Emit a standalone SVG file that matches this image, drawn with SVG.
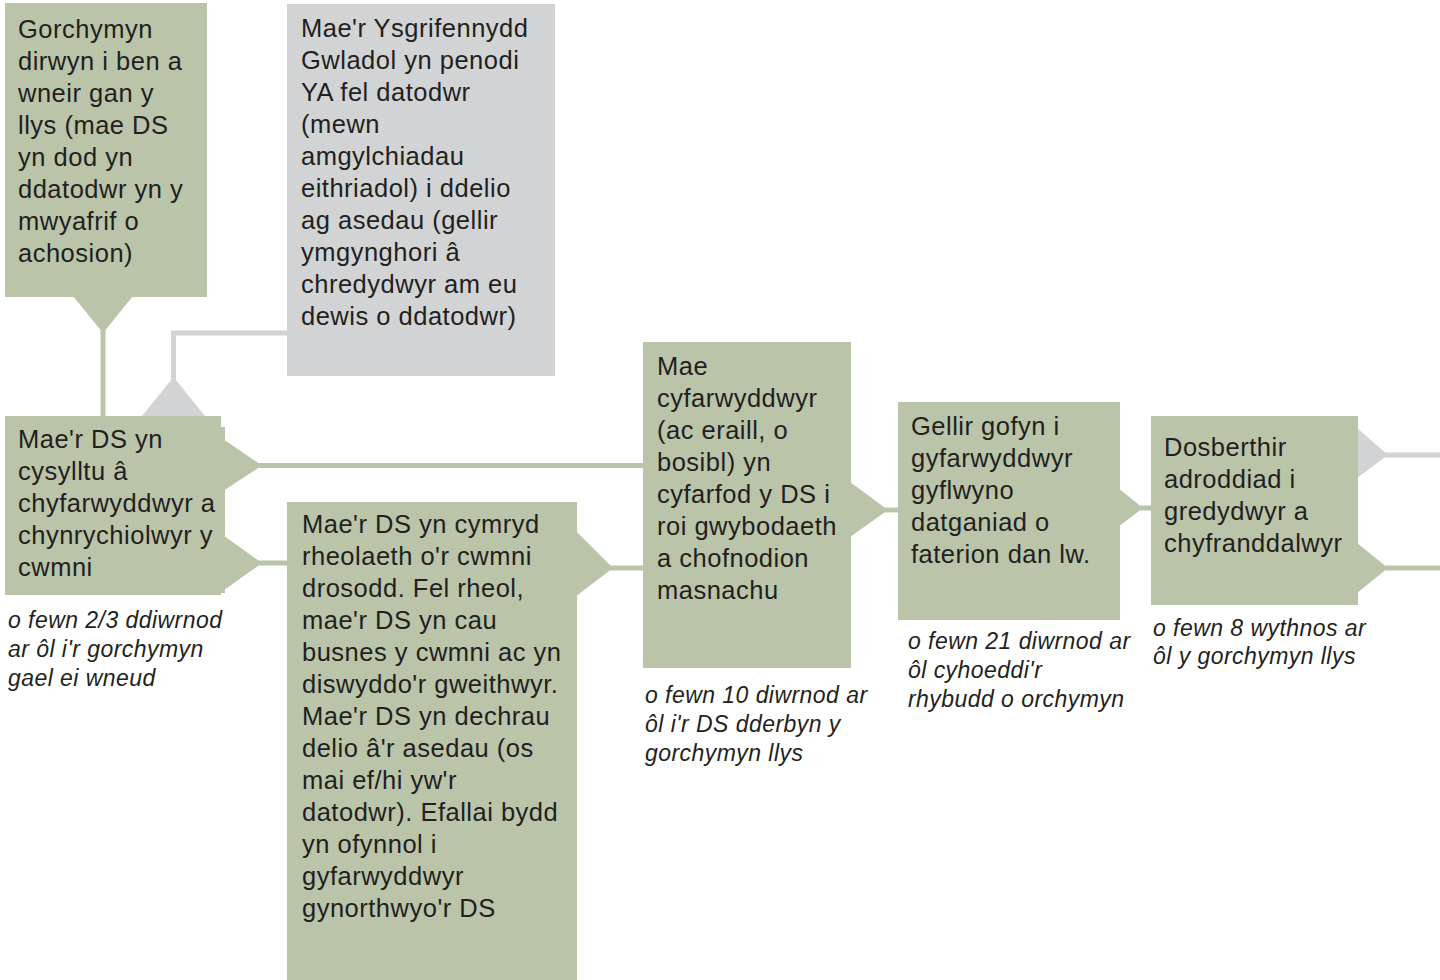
<svg xmlns="http://www.w3.org/2000/svg" width="1440" height="980" viewBox="0 0 1440 980">
<style>
.g{fill:#bac4a9}
.s{fill:#d1d3d4}
.lg{stroke:#bac4a9;stroke-width:5;fill:none}
.ls{stroke:#d1d3d4;stroke-width:5;fill:none}
.t{font-family:"Liberation Sans",Arial,sans-serif;font-size:25.5px;fill:#231f20;letter-spacing:0.5px}
.i{font-family:"Liberation Sans",Arial,sans-serif;font-size:23px;font-style:italic;fill:#231f20;letter-spacing:0.45px}
</style>
<rect width="1440" height="980" fill="#ffffff"/>
<g id="connectors">
<polyline class="ls" points="287,333 173.5,333 173.5,380"/>
<polygon class="s" points="173.5,377 142,416 205,416"/>
<polygon class="g" points="73,296 133,296 103,333"/>
<line class="lg" x1="103" y1="330" x2="103" y2="418"/>
<polygon class="g" points="220,437 262,465.5 220,493"/>
<line class="lg" x1="258" y1="465.5" x2="645" y2="465.5"/>
<polygon class="g" points="220,533 262,563 220,593"/>
<line class="lg" x1="258" y1="563" x2="289" y2="563"/>
<polygon class="g" points="575,530 613,568 575,597"/>
<line class="lg" x1="610" y1="568" x2="645" y2="568"/>
<polygon class="g" points="850,482 888,510 850,537"/>
<line class="lg" x1="885" y1="510" x2="900" y2="510"/>
<polygon class="g" points="1118,488 1143,508 1118,527"/>
<line class="lg" x1="1140" y1="508" x2="1153" y2="508"/>
<polygon class="s" points="1357,428 1388,455 1357,478"/>
<line class="ls" x1="1385" y1="455" x2="1440" y2="455"/>
<polygon class="g" points="1357,543 1388,568 1357,593"/>
<line class="lg" x1="1385" y1="568" x2="1440" y2="568"/>
</g>
<g id="node-order">
<rect class="g" x="5" y="3" width="202" height="294"/>
<text class="t" x="18" y="38">Gorchymyn</text>
<text class="t" x="18" y="70">dirwyn i ben a</text>
<text class="t" x="18" y="102">wneir gan y</text>
<text class="t" x="18" y="134">llys (mae DS</text>
<text class="t" x="18" y="166">yn dod yn</text>
<text class="t" x="18" y="198">ddatodwr yn y</text>
<text class="t" x="18" y="230">mwyafrif o</text>
<text class="t" x="18" y="262">achosion)</text>
</g>
<g id="node-secretary">
<rect class="s" x="287" y="4" width="268" height="372"/>
<text class="t" x="301" y="37">Mae'r Ysgrifennydd</text>
<text class="t" x="301" y="69">Gwladol yn penodi</text>
<text class="t" x="301" y="101">YA fel datodwr</text>
<text class="t" x="301" y="133">(mewn</text>
<text class="t" x="301" y="165">amgylchiadau</text>
<text class="t" x="301" y="197">eithriadol) i ddelio</text>
<text class="t" x="301" y="229">ag asedau (gellir</text>
<text class="t" x="301" y="261">ymgynghori â</text>
<text class="t" x="301" y="293">chredydwyr am eu</text>
<text class="t" x="301" y="325">dewis o ddatodwr)</text>
</g>
<g id="node-contact">
<rect class="g" x="5" y="416" width="216" height="179"/>
<rect class="g" x="219" y="427" width="6" height="166"/>
<text class="t" x="18" y="448">Mae'r DS yn</text>
<text class="t" x="18" y="480">cysylltu â</text>
<text class="t" x="18" y="512">chyfarwyddwyr a</text>
<text class="t" x="18" y="544">chynrychiolwyr y</text>
<text class="t" x="18" y="576">cwmni</text>
</g>
<g id="label-1">
<text class="i" x="8" y="628">o fewn 2/3 ddiwrnod</text>
<text class="i" x="8" y="657">ar ôl i'r gorchymyn</text>
<text class="i" x="8" y="686">gael ei wneud</text>
</g>
<g id="node-control">
<rect class="g" x="287" y="502" width="290" height="478"/>
<text class="t" x="302" y="533">Mae'r DS yn cymryd</text>
<text class="t" x="302" y="565">rheolaeth o'r cwmni</text>
<text class="t" x="302" y="597">drosodd. Fel rheol,</text>
<text class="t" x="302" y="629">mae'r DS yn cau</text>
<text class="t" x="302" y="661">busnes y cwmni ac yn</text>
<text class="t" x="302" y="693">diswyddo'r gweithwyr.</text>
<text class="t" x="302" y="725">Mae'r DS yn dechrau</text>
<text class="t" x="302" y="757">delio â'r asedau (os</text>
<text class="t" x="302" y="789">mai ef/hi yw'r</text>
<text class="t" x="302" y="821">datodwr). Efallai bydd</text>
<text class="t" x="302" y="853">yn ofynnol i</text>
<text class="t" x="302" y="885">gyfarwyddwyr</text>
<text class="t" x="302" y="917">gynorthwyo'r DS</text>
</g>
<g id="node-meet">
<rect class="g" x="643" y="342" width="208" height="326"/>
<text class="t" x="657" y="375">Mae</text>
<text class="t" x="657" y="407">cyfarwyddwyr</text>
<text class="t" x="657" y="439">(ac eraill, o</text>
<text class="t" x="657" y="471">bosibl) yn</text>
<text class="t" x="657" y="503">cyfarfod y DS i</text>
<text class="t" x="657" y="535">roi gwybodaeth</text>
<text class="t" x="657" y="567">a chofnodion</text>
<text class="t" x="657" y="599">masnachu</text>
</g>
<g id="label-2">
<text class="i" x="645" y="703">o fewn 10 diwrnod ar</text>
<text class="i" x="645" y="732">ôl i'r DS dderbyn y</text>
<text class="i" x="645" y="761">gorchymyn llys</text>
</g>
<g id="node-statement">
<rect class="g" x="898" y="402" width="222" height="218"/>
<text class="t" x="911" y="435">Gellir gofyn i</text>
<text class="t" x="911" y="467">gyfarwyddwyr</text>
<text class="t" x="911" y="499">gyflwyno</text>
<text class="t" x="911" y="531">datganiad o</text>
<text class="t" x="911" y="563">faterion dan lw.</text>
</g>
<g id="label-3">
<text class="i" x="908" y="649">o fewn 21 diwrnod ar</text>
<text class="i" x="908" y="678">ôl cyhoeddi'r</text>
<text class="i" x="908" y="707">rhybudd o orchymyn</text>
</g>
<g id="node-report">
<rect class="g" x="1151" y="416" width="207" height="189"/>
<text class="t" x="1164" y="456">Dosberthir</text>
<text class="t" x="1164" y="488">adroddiad i</text>
<text class="t" x="1164" y="520">gredydwyr a</text>
<text class="t" x="1164" y="552">chyfranddalwyr</text>
</g>
<g id="label-4">
<text class="i" x="1153" y="636">o fewn 8 wythnos ar</text>
<text class="i" x="1153" y="664">ôl y gorchymyn llys</text>
</g>
</svg>
